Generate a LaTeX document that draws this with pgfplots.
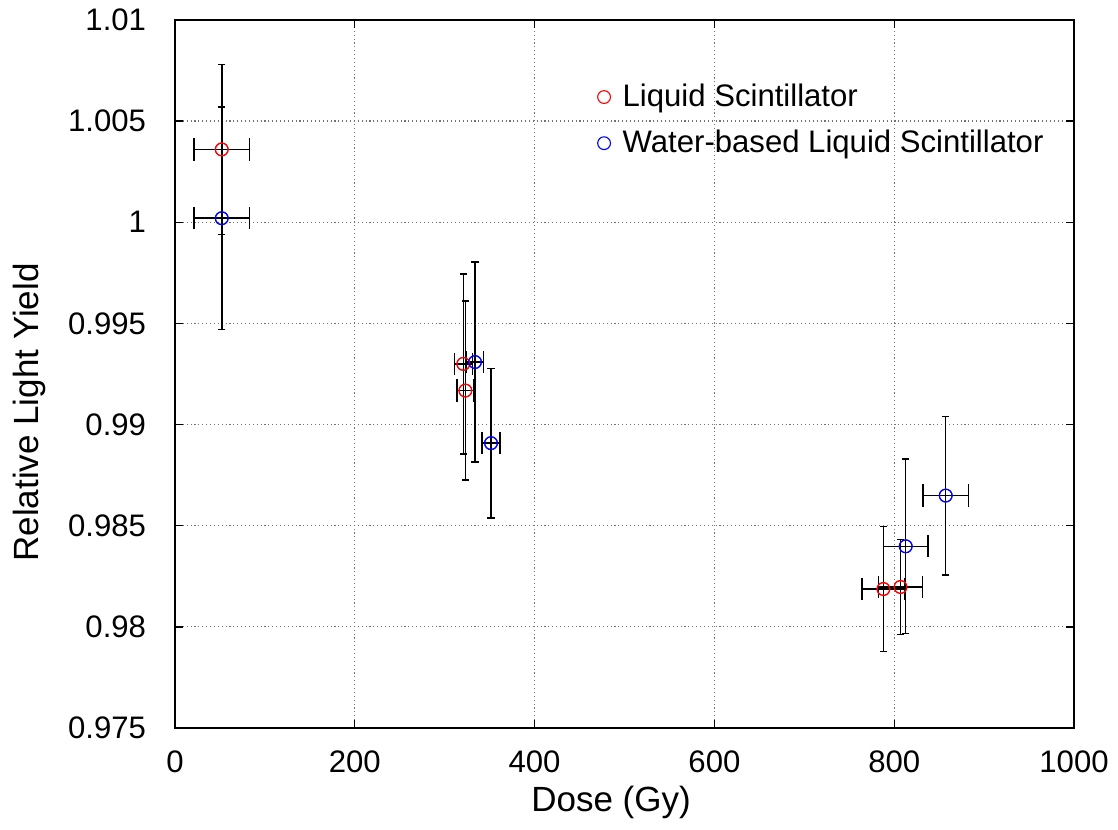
\documentclass[border=0pt]{standalone}
\usepackage{pgfplots}
\usepackage{pgfplotstable}
\pgfplotsset{compat=1.18}
\usepackage{fontspec}
\setmainfont{Liberation Sans}

\pgfplotstableread{
x      y        ex    ey
52     1.0036   31    0.0042
320.7  0.9930   10    0.00445
323    0.99168  9.6   0.00442
788    0.98187  24    0.0031
807    0.98197  24.5  0.00235
}\ls

\pgfplotstableread{
x      y        ex    ey
52     1.0002   31    0.0055
333.7  0.99309  9.5   0.00494
351.5  0.98908  10    0.0037
812.8  0.98398  24.5  0.00432
857.3  0.98649  25.3  0.00392
}\wbls

\begin{document}
\begin{tikzpicture}
\begin{axis}[
  scale only axis,
  width=323.64pt, height=254.88pt,
  xmin=0, xmax=1000, ymin=0.975, ymax=1.01,
  xtick={0,200,400,600,800,1000},
  ytick={0.975,0.98,0.985,0.99,0.995,1,1.005,1.01},
  yticklabels={0.975,0.98,0.985,0.99,0.995,1,1.005,1.01},
  /pgf/number format/assume math mode=true,
  /pgf/number format/set thousands separator={},
  grid=major,
  major grid style={densely dotted, black!55, line width=0.45pt},
  tick align=inside,
  major tick length=2.9pt,
  tick style={black, line width=0.5pt},
  axis line style={line width=0.7pt},
  ticklabel style={font=\fontsize{11.2}{13}\selectfont},
  yticklabel style={xshift=-6.9pt},
  xticklabel style={yshift=-4.5pt},
  xlabel={Dose (Gy)},
  ylabel={Relative Light Yield},
  label style={font=\fontsize{12.6}{15}\selectfont},
  xlabel style={at={(rel axis cs:0.485,-0.1045)}, anchor=center},
  ylabel style={at={(rel axis cs:-0.162,0.4456)}, anchor=center},
  legend style={at={(rel axis cs:0.4575,0.9265)}, anchor=north west, draw=none, fill=none,
    font=\fontsize{11.2}{13}\selectfont, row sep=3pt},
  legend cell align=left,
  legend image code/.code={\draw[#1] plot coordinates {(3pt,0pt)}; \path (0pt,0pt) (7.5pt,0pt);},
]
\coordinate (imgSW) at (rel axis cs:-0.19466,-0.1431);
\coordinate (imgNE) at (rel axis cs:1.04894,1.02825);

% horizontal error bars
\addplot[forget plot, only marks, mark=o, red, mark size=2.3pt, mark options={line width=0.4pt},
  error bars/.cd, x dir=both, x explicit,
  error bar style={black, line width=0.55pt},
  error mark options={black, mark size=4pt, line width=0.55pt, rotate=90}]
  table[x=x, y=y, x error=ex] {\ls};
\addplot[forget plot, only marks, mark=o, blue, mark size=2.3pt, mark options={line width=0.4pt},
  error bars/.cd, x dir=both, x explicit,
  error bar style={black, line width=0.55pt},
  error mark options={black, mark size=4pt, line width=0.55pt, rotate=90}]
  table[x=x, y=y, x error=ex] {\wbls};

% vertical error bars with markers
\addplot[only marks, mark=o, red, mark size=2.3pt, mark options={line width=0.4pt},
  error bars/.cd, y dir=both, y explicit,
  error bar style={black, line width=0.55pt},
  error mark options={black, mark size=1.3pt, line width=0.55pt, rotate=90}]
  table[x=x, y=y, y error=ey] {\ls};
\addlegendentry{Liquid Scintillator}
\addplot[only marks, mark=o, blue, mark size=2.3pt, mark options={line width=0.4pt},
  error bars/.cd, y dir=both, y explicit,
  error bar style={black, line width=0.55pt},
  error mark options={black, mark size=1.3pt, line width=0.55pt, rotate=90}]
  table[x=x, y=y, y error=ey] {\wbls};
\addlegendentry{Water-based Liquid Scintillator}
\end{axis}
\pgfresetboundingbox
\path[use as bounding box] (imgSW) rectangle (imgNE);
\end{tikzpicture}
\end{document}
